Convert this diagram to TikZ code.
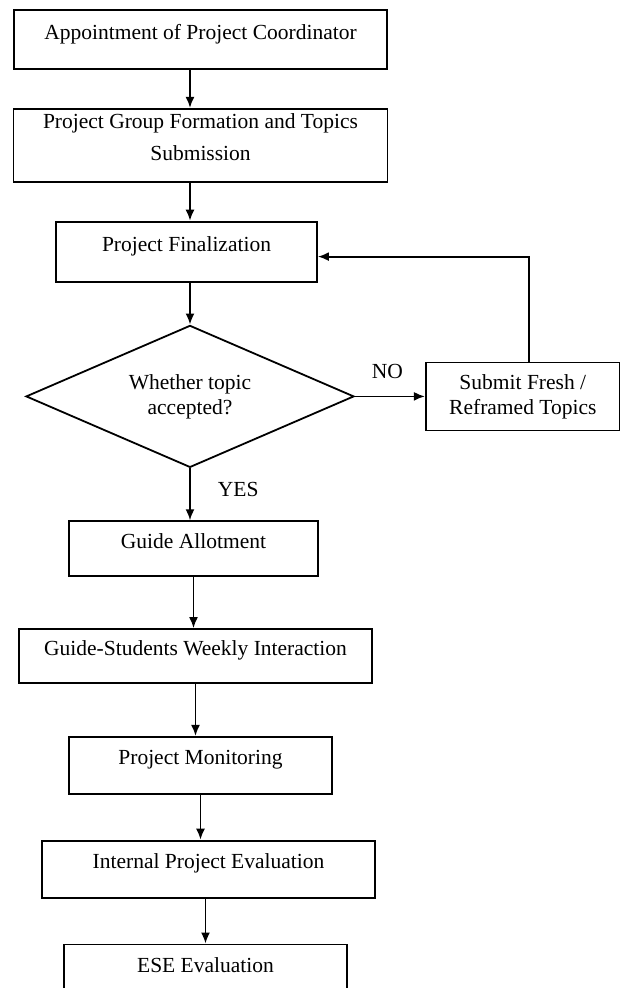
\documentclass[tikz,border=0pt]{standalone}
\usepackage{fontspec}
\setmainfont{Liberation Serif}
\usetikzlibrary{positioning,shapes.geometric,arrows.meta}

\begin{document}
\begin{tikzpicture}[x=1pt, y=1pt, line width=1.8pt,
  box/.style={draw, rectangle, align=center, inner sep=0pt, text height=15pt, text depth=16pt, font=\fontsize{21.5}{25}\selectfont},
  decision/.style={draw, diamond, aspect=2.31, minimum width=328pt, minimum height=142pt, inner sep=0pt, align=center, font=\fontsize{21.5}{25}\selectfont},
  tag/.style={inner sep=0pt, font=\fontsize{21.5}{25}\selectfont},
  arr/.style={-{Latex[length=11pt,width=9pt]}}]
  \useasboundingbox (0,0) rectangle (620,-988);
  % Nodes
  \node[box, minimum width=373pt, minimum height=59pt] (coord) at (200.5,-39.5) {Appointment of Project Coordinator};
  \node[box, minimum width=374pt, minimum height=73pt, text height=47pt, below=38pt of coord] (team) {Project Group Formation and Topics\\[7pt]Submission};
  \node[box, minimum width=261pt, minimum height=60pt, below=38pt of team, xshift=-14pt] (final) {Project Finalization};
  \node[decision, below=42pt of final, xshift=3.5pt] (dec) {Whether topic\\accepted?};
  \node[box, minimum width=194pt, minimum height=68pt, text height=40pt, text depth=4pt, right=70pt of dec] (submit) {Submit Fresh /\\Reframed Topics};
  \node[box, minimum width=249pt, minimum height=55pt, below=52pt of dec, xshift=3.5pt] (guide) {Guide Allotment};
  \node[box, minimum width=353pt, minimum height=54pt, below=51pt of guide, xshift=2pt] (weekly) {Guide-Students Weekly Interaction};
  \node[box, minimum width=263pt, minimum height=57pt, below=52pt of weekly, xshift=5pt] (monit) {Project Monitoring};
  \node[box, minimum width=333pt, minimum height=57pt, below=45pt of monit, xshift=8pt] (internal) {Internal Project Evaluation};
  \node[box, minimum width=283pt, minimum height=58pt, below=45pt of internal, xshift=-3pt] (ese) {ESE Evaluation};
  \node[tag, above right=17pt and 16pt of dec.east] (no) {NO};
  \node[tag, below right=13pt and 27pt of dec.south] (yes) {YES};
  % Connections
  \draw[arr] (coord.south -| dec) -- (team.north -| dec);
  \draw[arr] (team.south -| dec) -- (final.north -| dec);
  \draw[arr] (final.south -| dec) -- (dec.north);
  \draw[arr] (dec.east) -- (submit.west);
  \draw[arr] ([xshift=6pt]submit.north) |- ([yshift=-5pt]final.east);
  \draw[arr] (dec.south) -- (guide.north -| dec);
  \draw[arr] (guide.south) -- (guide.south |- weekly.north);
  \draw[arr] (weekly.south) -- (weekly.south |- monit.north);
  \draw[arr] (monit.south) -- (monit.south |- internal.north);
  \draw[arr] (ese.north |- internal.south) -- (ese.north);
\end{tikzpicture}
\end{document}
